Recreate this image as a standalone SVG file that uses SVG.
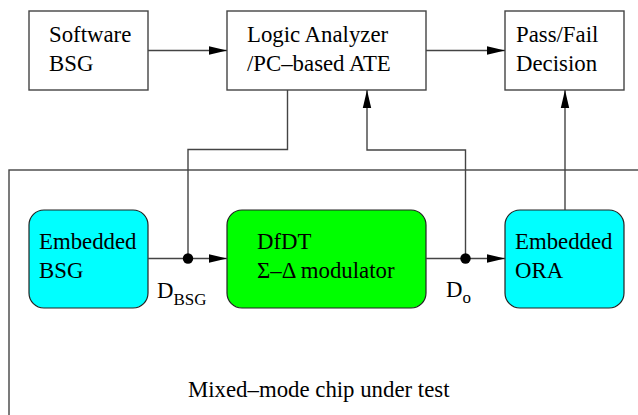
<svg xmlns="http://www.w3.org/2000/svg" width="638" height="415" viewBox="0 0 638 415">
<defs>
<marker id="ah" markerWidth="18" markerHeight="10" refX="18" refY="5" orient="auto" markerUnits="userSpaceOnUse">
<path d="M0,0.8 L18,5 L0,9.2 Z" fill="#000"/>
</marker>
<style>
.box{fill:#fff;stroke:#444;stroke-width:1.4}
.rb{stroke:#222;stroke-width:1.2}
.ln{fill:none;stroke:#444;stroke-width:1.4}
.s{font-size:17px}
</style>
</defs>
<rect x="9" y="170" width="640" height="260" class="ln"/>
<g font-family="'Liberation Serif', 'DejaVu Serif', serif" font-size="22.8" fill="#000">
<g id="software-bsg"><rect x="29" y="11" width="119" height="79" class="box"/><text x="49" y="42">Software</text><text x="49" y="71">BSG</text></g>
<g id="logic-analyzer"><rect x="227" y="11" width="199" height="79" class="box"/><text x="247" y="42">Logic Analyzer</text><text x="247" y="71">/PC–based ATE</text></g>
<g id="pass-fail"><rect x="505" y="11" width="119" height="79" class="box"/><text x="516" y="42">Pass/Fail</text><text x="516" y="71">Decision</text></g>
<g id="embedded-bsg"><rect x="29" y="210" width="119" height="98" rx="15" fill="#00ffff" class="rb"/><text x="39" y="249">Embedded</text><text x="39" y="278">BSG</text></g>
<g id="dfdt"><rect x="227" y="210" width="199" height="98" rx="15" fill="#00ff00" class="rb"/><text x="257" y="249">DfDT</text><text x="257" y="278">Σ–Δ modulator</text></g>
<g id="embedded-ora"><rect x="505" y="210" width="119" height="98" rx="15" fill="#00ffff" class="rb"/><text x="515" y="249">Embedded</text><text x="515" y="278">ORA</text></g>
<text x="157" y="298">D<tspan class="s" dy="7">BSG</tspan></text>
<text x="446" y="297">D<tspan class="s" dy="6">o</tspan></text>
<text x="188" y="397">Mixed–mode chip under test</text>
</g>
<g id="connectors">
<line x1="148" y1="50.5" x2="227" y2="50.5" class="ln" marker-end="url(#ah)"/>
<line x1="426" y1="50.5" x2="505" y2="50.5" class="ln" marker-end="url(#ah)"/>
<polyline points="287.5,90 287.5,149.5 188,149.5 188,258.5" class="ln"/>
<line x1="148" y1="258.5" x2="227" y2="258.5" class="ln" marker-end="url(#ah)"/>
<line x1="426" y1="258.5" x2="505" y2="258.5" class="ln" marker-end="url(#ah)"/>
<polyline points="465.5,258.5 465.5,150 367,150 367,90" class="ln" marker-end="url(#ah)"/>
<line x1="565" y1="210" x2="565" y2="90" class="ln" marker-end="url(#ah)"/>
<circle cx="188" cy="258.5" r="5.2" fill="#000"/>
<circle cx="465.5" cy="258.5" r="5.2" fill="#000"/>
</g>
</svg>
